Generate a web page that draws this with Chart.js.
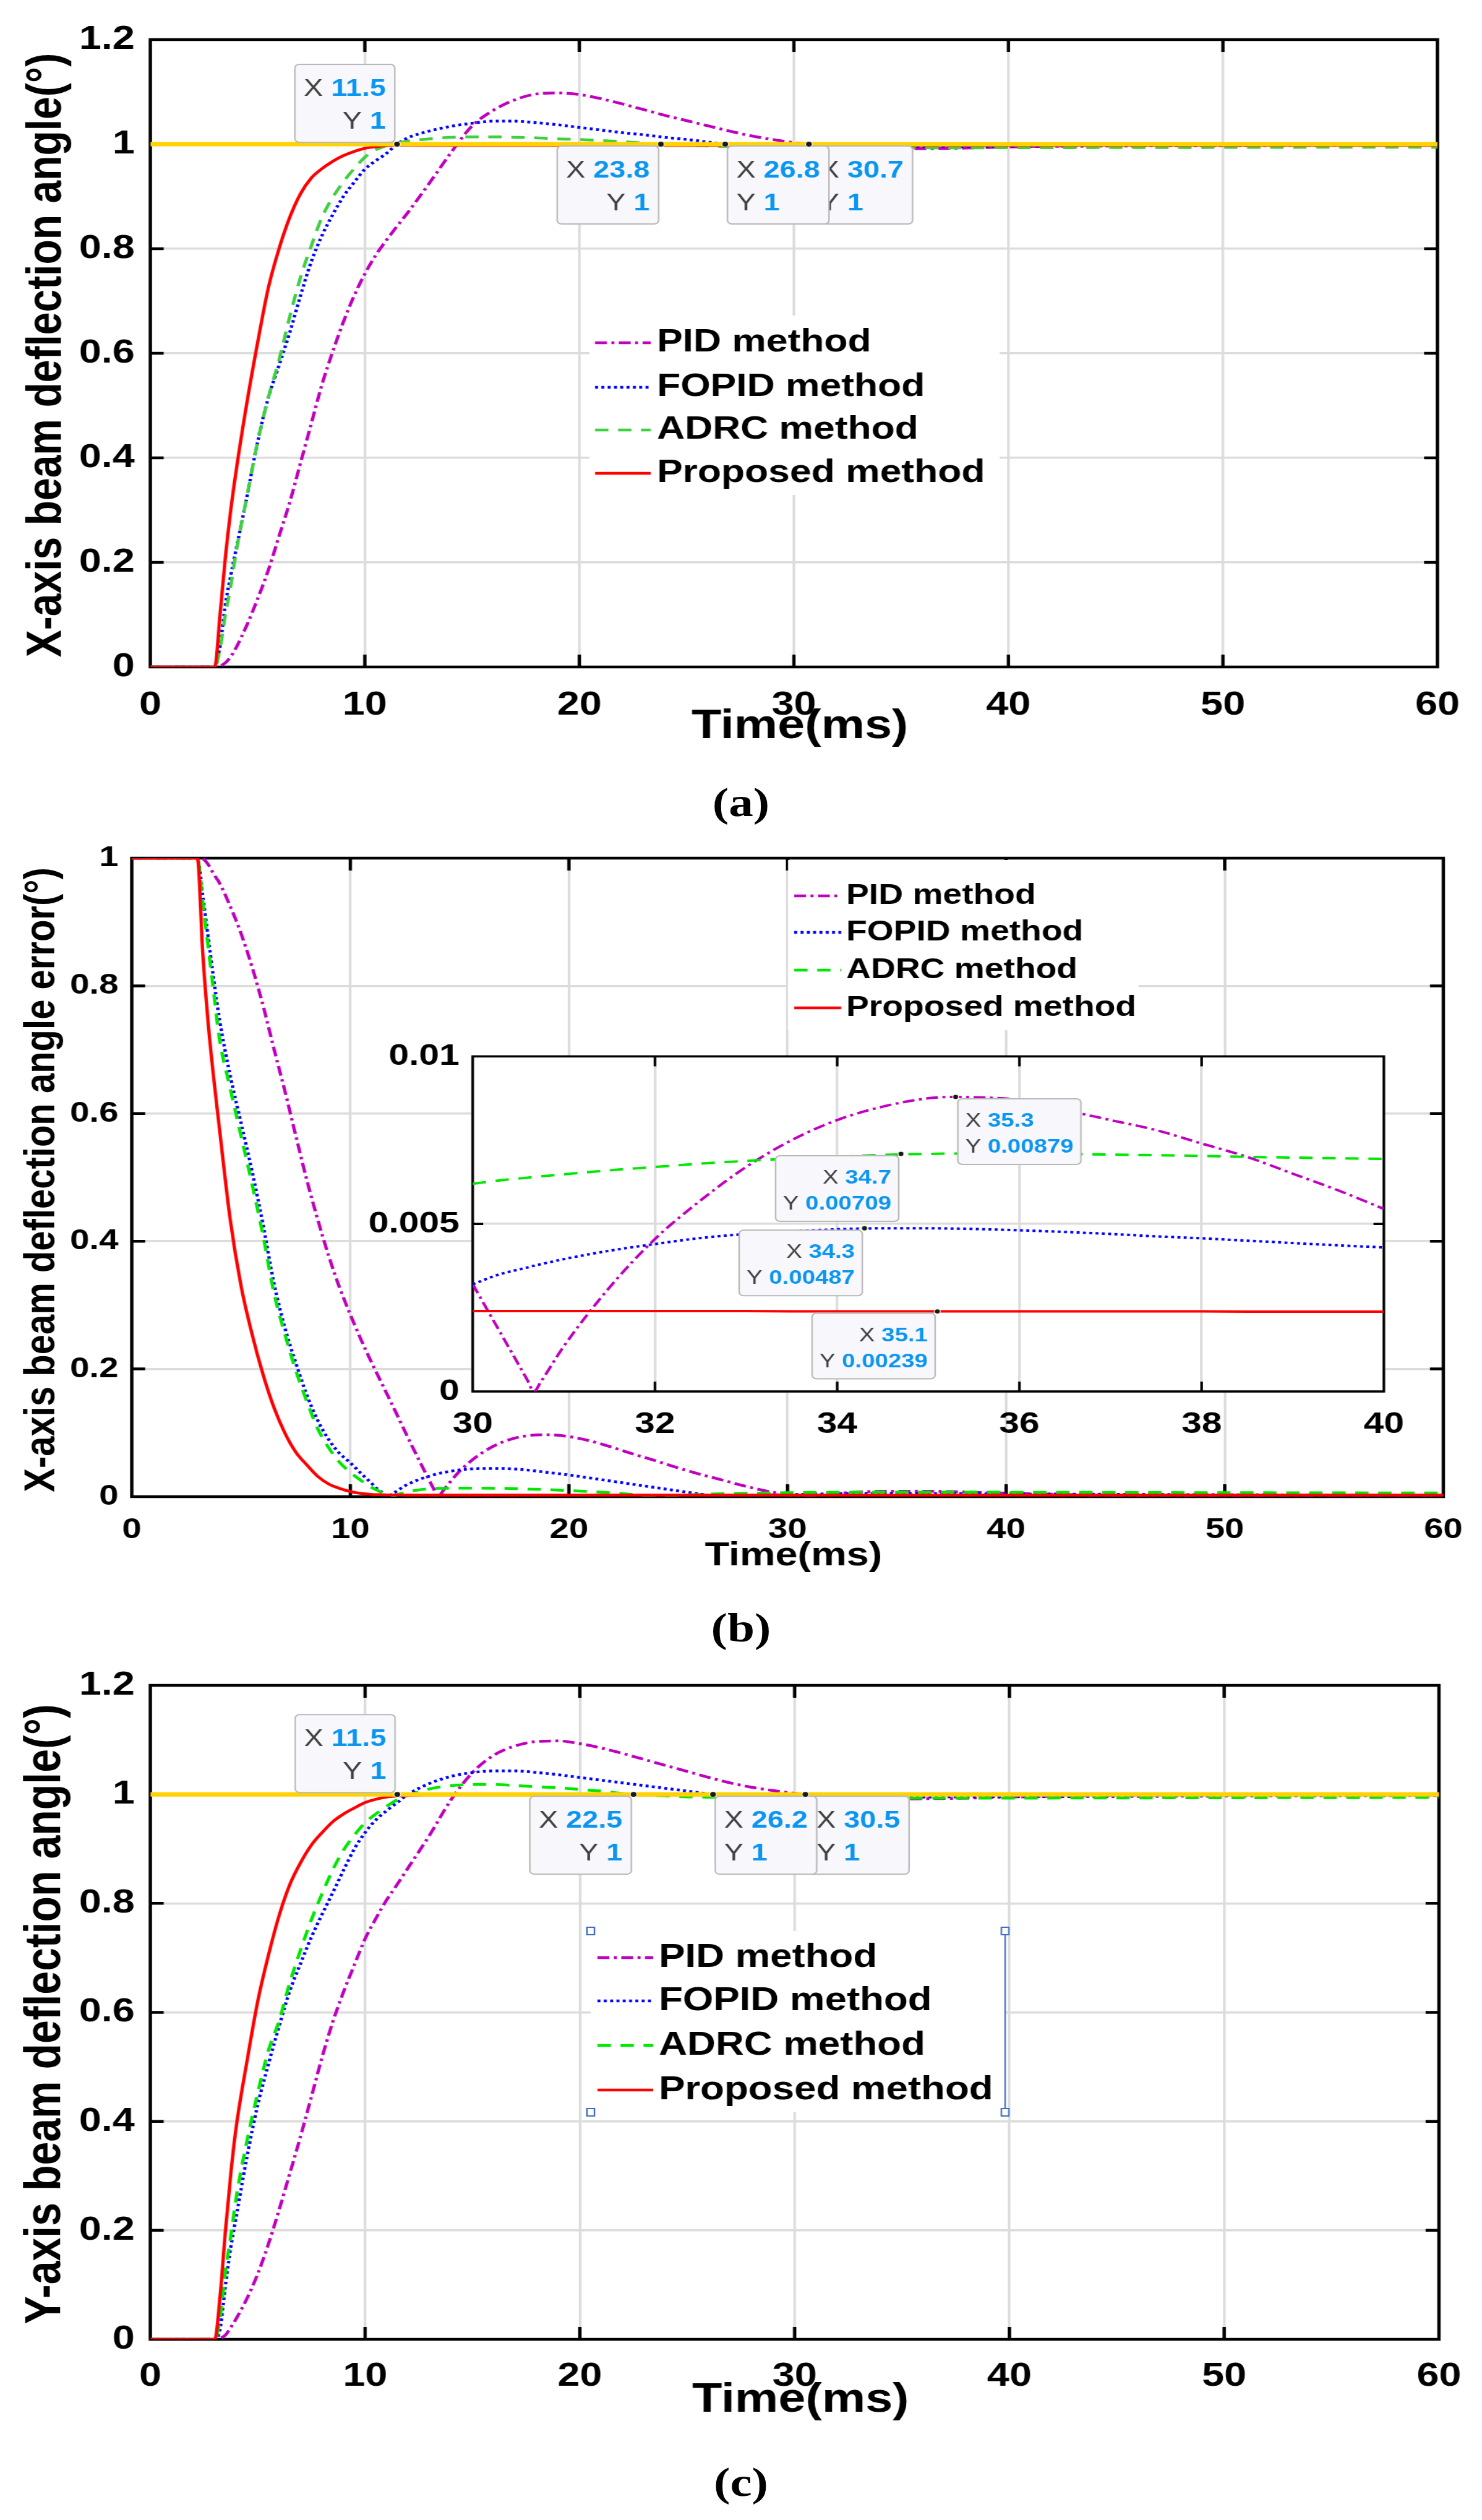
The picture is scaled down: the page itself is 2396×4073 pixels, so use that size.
<!DOCTYPE html>
<html lang="en">
<head>
<meta charset="utf-8">
<title>Beam deflection responses</title>
<script src="https://cdn.jsdelivr.net/npm/chart.js@4.4.1/dist/chart.umd.min.js"></script>
<style>
  html, body { margin: 0; padding: 0; background: #fff; }
  body { width: 2396px; height: 4073px; overflow: hidden; position: relative; }
  /* the original figure is stretched sideways, so draw narrow and widen */
  #page { position: absolute; left: 0; top: 0; width: 1997px; height: 4073px;
          transform-origin: 0 0; transform: scaleX(1.19980); }
  #page canvas { position: absolute; left: 0; }
  .caption { position: absolute; left: 0; width: 1997px; text-align: center;
             font-family: 'Liberation Serif', 'Times New Roman', serif; font-weight: bold;
             font-size: 66px; line-height: 66px; color: #000; }
</style>
</head>
<body>
<div id="page">
  <canvas id="chartA" width="1997" height="1240" style="top:0px"></canvas>
  <canvas id="chartB" width="1997" height="1250" style="top:1330px"></canvas>
  <canvas id="chartInset" width="1450" height="685" style="top:1660px; left:466.7px"></canvas>
  <canvas id="chartC" width="1997" height="1290" style="top:2660px"></canvas>
  <div class="caption" style="top:1264px">(a)</div>
  <div class="caption" style="top:2598px">(b)</div>
  <div class="caption" style="top:3979px">(c)</div>
</div>
<script>
// ---- values ----
const methodNames = ['PID method', 'FOPID method', 'ADRC method', 'Proposed method'];
const timeTicks = [0, 10, 20, 30, 40, 50, 60];
const angleTicks = [0, 0.2, 0.4, 0.6, 0.8, 1, 1.2];
const errorTicks = [0, 0.2, 0.4, 0.6, 0.8, 1];
const insetTimeTicks = [30, 32, 34, 36, 38, 40];
const insetErrorTicks = [0, 0.005, 0.01];
const refX = [0, 60];
const refY = [1, 1];

// (a) and (c) step responses, time in ms
const tStep = [
  0, 3, 3.25, 3.5, 3.75,
  4, 4.5, 5, 5.5, 6, 6.5,
  7, 7.5, 8, 8.5, 9, 9.5,
  10, 10.5, 11, 11.5, 12,
  13, 14, 15, 16, 17, 18, 19, 20, 21, 22,
  23, 24, 25, 26, 27, 28, 29, 30, 31, 32,
  33, 34, 35, 36, 38, 40,
  45, 50, 55, 60
];

// (a) X-axis angle
const pidA = [
  0, 0, 0.002, 0.008, 0.02,
  0.037, 0.08, 0.13, 0.185, 0.25, 0.315,
  0.39, 0.465, 0.54, 0.603, 0.66, 0.71,
  0.752, 0.787, 0.816, 0.843, 0.869,
  0.925, 0.983, 1.035, 1.065, 1.085, 1.096, 1.098, 1.095, 1.087, 1.077,
  1.066, 1.055, 1.045, 1.035, 1.025, 1.016, 1.009, 1.003, 0.9985, 0.9955,
  0.9933, 0.9918, 0.9912, 0.9914, 0.9925, 0.9945,
  0.998, 0.9995, 1, 1
];
const fopidA = [
  0, 0, 0.04, 0.12, 0.175,
  0.225, 0.325, 0.43, 0.515, 0.577, 0.64,
  0.71, 0.775, 0.825, 0.865, 0.9, 0.927,
  0.952, 0.968, 0.982, 1.0, 1.012,
  1.025, 1.034, 1.04, 1.044, 1.044, 1.041, 1.037, 1.032, 1.027, 1.022,
  1.018, 1.013, 1.009, 1.004, 0.999, 0.9975, 0.997, 0.9968, 0.9962, 0.9956,
  0.9953, 0.9952, 0.9951, 0.9952, 0.9954, 0.9957,
  0.9965, 0.997, 0.9975, 0.998
];
const adrcA = [
  0, 0, 0.035, 0.1, 0.155,
  0.22, 0.325, 0.43, 0.515, 0.587, 0.67,
  0.745, 0.805, 0.86, 0.898, 0.928, 0.953,
  0.975, 0.989, 0.997, 1.002, 1.006,
  1.01, 1.013, 1.014, 1.014, 1.013, 1.012, 1.01, 1.009, 1.007, 1.005,
  1.002, 0.9995, 0.998, 0.9965, 0.9955, 0.9948, 0.9943, 0.9938, 0.9936, 0.9933,
  0.9931, 0.993, 0.9929, 0.9929, 0.993, 0.9931,
  0.9934, 0.9937, 0.994, 0.9942
];
const propA = [
  0, 0, 0.1, 0.21, 0.3,
  0.375, 0.505, 0.62, 0.725, 0.8, 0.86,
  0.905, 0.935, 0.953, 0.967, 0.978, 0.986,
  0.992, 0.995, 0.997, 0.998, 0.9978,
  0.9976, 0.9976, 0.9976, 0.9976, 0.9976, 0.9976, 0.9976, 0.9976, 0.9976, 0.9976,
  0.9976, 0.9976, 0.9976, 0.9976, 0.9976, 0.9976, 0.9976, 0.9976, 0.9976, 0.9976,
  0.9976, 0.9976, 0.9976, 0.9976, 0.9976, 0.9976,
  0.9976, 0.9976, 0.9976, 0.9976
];
const tipXA = [11.5, 23.8, 26.8, 30.7];
const tipYA = [1, 1, 1, 1];

// (c) Y-axis angle
const pidC = [
  0, 0, 0.002, 0.008, 0.022,
  0.038, 0.075, 0.12, 0.175, 0.238, 0.305,
  0.373, 0.445, 0.518, 0.583, 0.638, 0.687,
  0.735, 0.772, 0.806, 0.835, 0.865,
  0.925, 0.99, 1.04, 1.072, 1.089, 1.097, 1.098, 1.093, 1.085, 1.075,
  1.064, 1.053, 1.042, 1.031, 1.021, 1.013, 1.007, 1.002, 0.998, 0.995,
  0.993, 0.992, 0.9915, 0.992, 0.993, 0.995,
  0.998, 0.999, 1, 1
];
const fopidC = [
  0, 0, 0.02, 0.1, 0.17,
  0.225, 0.335, 0.43, 0.505, 0.575, 0.64,
  0.69, 0.738, 0.78, 0.82, 0.861, 0.9,
  0.93, 0.953, 0.97, 0.985, 1.0,
  1.02, 1.033, 1.04, 1.043, 1.043, 1.04, 1.036, 1.031, 1.026, 1.021,
  1.016, 1.011, 1.006, 1.001, 0.998, 0.997, 0.9965, 0.996, 0.9958, 0.9955,
  0.9953, 0.9952, 0.9952, 0.9952, 0.9954, 0.9956,
  0.9963, 0.997, 0.9975, 0.998
];
const adrcC = [
  0, 0, 0.04, 0.125, 0.19,
  0.26, 0.364, 0.452, 0.53, 0.585, 0.655,
  0.715, 0.77, 0.818, 0.862, 0.898, 0.925,
  0.948, 0.964, 0.978, 0.99, 0.998,
  1.01, 1.016, 1.018, 1.018, 1.016, 1.014, 1.012, 1.009, 1.006, 1.0015,
  0.999, 0.997, 0.9955, 0.9948, 0.9943, 0.994, 0.9938, 0.9936, 0.9934, 0.9932,
  0.9931, 0.993, 0.993, 0.993, 0.993, 0.9931,
  0.9934, 0.9937, 0.994, 0.9942
];
const propC = [
  0, 0, 0.08, 0.2, 0.305,
  0.39, 0.51, 0.62, 0.705, 0.778, 0.835,
  0.875, 0.907, 0.93, 0.95, 0.964, 0.975,
  0.985, 0.991, 0.995, 0.997, 0.998,
  0.999, 0.999, 0.999, 0.999, 0.999, 0.999, 0.999, 0.999, 0.999, 0.999,
  0.999, 0.999, 0.999, 0.999, 0.999, 0.999, 0.999, 0.999, 0.999, 0.999,
  0.999, 0.999, 0.999, 0.999, 0.999, 0.999,
  0.999, 0.999, 0.999, 0.999
];
const tipXC = [11.5, 22.5, 26.2, 30.5];
const tipYC = [1, 1, 1, 1];

// (b) X-axis angle error
const tErr = [
  0, 3, 3.25, 3.5, 3.75,
  4, 4.5, 5, 5.5, 6, 6.5,
  7, 7.5, 8, 8.5, 9, 9.5,
  10, 10.5, 11, 11.2, 11.4, 11.5, 11.6, 11.7, 11.9, 12,
  12.5, 13, 13.5, 13.8, 14, 14.3, 15, 16, 17, 18,
  19, 20, 21, 22, 23, 23.8, 25, 26, 26.8, 28,
  29, 30, 30.7, 32, 34, 36, 38, 40,
  45, 50, 55, 60
];
const pidB = [
  1, 1, 0.999, 0.99, 0.975,
  0.962, 0.925, 0.882, 0.83, 0.77, 0.702,
  0.636, 0.566, 0.497, 0.435, 0.378, 0.328,
  0.285, 0.245, 0.208, 0.194, 0.18, 0.173, 0.166, 0.159, 0.145, 0.138,
  0.102, 0.067, 0.033, 0.013, 0, 0.012, 0.04, 0.068, 0.086, 0.095,
  0.097, 0.094, 0.087, 0.077, 0.066, 0.058, 0.045, 0.035, 0.028, 0.017,
  0.009, 0.0032, 0, 0.0045, 0.0082, 0.0086, 0.0074, 0.0055,
  0.002, 0.0008, 0.0003, 0.0001
];
const fopidB = [
  1, 1, 0.94, 0.875, 0.81,
  0.75, 0.66, 0.585, 0.51, 0.427, 0.335,
  0.265, 0.21, 0.16, 0.12, 0.09, 0.068,
  0.053, 0.036, 0.02, 0.013, 0.008, 0.005, 0.0025, 0, 0.004, 0.006,
  0.017, 0.025, 0.031, 0.034, 0.036, 0.038, 0.042, 0.044, 0.044, 0.042,
  0.038, 0.034, 0.029, 0.024, 0.019, 0.015, 0.009, 0.004, 0, 0.0018,
  0.0026, 0.0032, 0.0037, 0.0044, 0.0048, 0.0048, 0.0046, 0.0043,
  0.0037, 0.003, 0.0025, 0.002
];
const adrcB = [
  1, 1, 0.93, 0.86, 0.79,
  0.72, 0.64, 0.565, 0.49, 0.41, 0.32,
  0.255, 0.198, 0.15, 0.107, 0.077, 0.054,
  0.038, 0.025, 0.014, 0.0105, 0.007, 0.0055, 0.004, 0.0025, 0, 0.0015,
  0.0065, 0.01, 0.012, 0.0125, 0.013, 0.013, 0.0133, 0.0133, 0.013, 0.012,
  0.011, 0.0095, 0.008, 0.006, 0.003, 0, 0.0022, 0.0035, 0.0043, 0.0052,
  0.0058, 0.0062, 0.0064, 0.0067, 0.007, 0.0071, 0.007, 0.0069,
  0.0066, 0.0063, 0.006, 0.0058
];
const propB = [
  1, 1, 0.85, 0.74, 0.655,
  0.58, 0.435, 0.33, 0.255, 0.192, 0.14,
  0.1, 0.07, 0.05, 0.032, 0.02, 0.013,
  0.008, 0.005, 0.0035, 0.0032, 0.003, 0.0029, 0.0028, 0.0027, 0.0026, 0.0026,
  0.0025, 0.0024, 0.0024, 0.0024, 0.0024, 0.0024, 0.0024, 0.0024, 0.0024, 0.0024,
  0.0024, 0.0024, 0.0024, 0.0024, 0.0024, 0.0024, 0.0024, 0.0024, 0.0024, 0.0024,
  0.0024, 0.0024, 0.0024, 0.0024, 0.00239, 0.00239, 0.00239, 0.00238,
  0.00238, 0.00238, 0.00238, 0.00238
];

// (b) zoomed inset, 30-40 ms
const tIn = [
  30, 30.3, 30.6, 30.67, 30.75,
  31, 31.5, 32, 32.5, 33,
  33.5, 34, 34.5, 35, 35.3,
  35.5, 36, 36.5, 37, 37.5,
  38, 38.5, 39, 39.5, 40
];
const pidIn = [
  0.0032, 0.00177, 0.00034, 0, 0.0003,
  0.00135, 0.0031, 0.00455, 0.0057, 0.0067,
  0.0075, 0.0081, 0.0085, 0.00875, 0.00879,
  0.00878, 0.0087, 0.0084, 0.0081, 0.0078,
  0.0074, 0.007, 0.0065, 0.006, 0.00545
];
const fopidIn = [
  0.0032, 0.0035, 0.0037, 0.00375, 0.0038,
  0.00395, 0.0042, 0.0044, 0.00458, 0.0047,
  0.00478, 0.00484, 0.00487, 0.00487, 0.00486,
  0.00485, 0.00481, 0.00476, 0.0047, 0.00463,
  0.00457, 0.0045, 0.00443, 0.00436, 0.0043
];
const adrcIn = [
  0.0062, 0.0063, 0.00638, 0.0064, 0.00642,
  0.00648, 0.0066, 0.0067, 0.0068, 0.00688,
  0.00695, 0.007, 0.00706, 0.00709, 0.0071,
  0.0071, 0.0071, 0.00709, 0.00707, 0.00705,
  0.00703, 0.007, 0.00698, 0.00696, 0.00694
];
const propIn = [
  0.0024, 0.0024, 0.0024, 0.0024, 0.0024,
  0.0024, 0.0024, 0.0024, 0.0024, 0.0024,
  0.00239, 0.00239, 0.00239, 0.00239, 0.00239,
  0.00239, 0.00239, 0.00239, 0.00239, 0.00239,
  0.00239, 0.00238, 0.00238, 0.00238, 0.00238
];
const tipXIn = [35.3, 34.7, 34.3, 35.1];
const tipYIn = [0.00879, 0.00709, 0.00487, 0.00239];

// ---- drawing ----
const S = 2396 / 1997;          // horizontal stretch of the page
const FONT = "'Liberation Sans', Arial, Helvetica, sans-serif";
const COLORS = { pid: '#bf00bf', fopid: '#0000ff', adrcA: '#3fd03f', adrc: '#00e800', prop: '#ff0000', ref: '#ffd200' };
const DASH = { pid: [16, 6, 4, 6], fopid: [4, 4.5], adrc: [18, 13], prop: [] };

function line(t, ys, label, color, width, dash, order) {
  return {
    label, order,
    data: t.map((x, i) => ({ x, y: ys[i] })),
    borderColor: color, borderWidth: width, borderDash: dash,
    pointRadius: 0, fill: false, cubicInterpolationMode: 'monotone',
    borderCapStyle: 'butt', borderJoinStyle: 'round'
  };
}

function methodLines(t, pid, fopid, adrc, prop, w, green) {
  return [
    line(t, pid, methodNames[0], COLORS.pid, w, DASH.pid, 4),
    line(t, fopid, methodNames[1], COLORS.fopid, w, DASH.fopid, 3),
    line(t, adrc, methodNames[2], green, w, DASH.adrc, 2),
    line(t, prop, methodNames[3], COLORS.prop, w, DASH.prop, 1)
  ];
}

function refLine() {
  return {
    data: refX.map((x, i) => ({ x, y: refY[i] })),
    borderColor: COLORS.ref, borderWidth: 7, pointRadius: 0, fill: false, order: 0
  };
}

function roundedBox(ctx, x, y, w, h, r) {
  ctx.beginPath();
  ctx.moveTo(x + r, y);
  ctx.arcTo(x + w, y, x + w, y + h, r);
  ctx.arcTo(x + w, y + h, x, y + h, r);
  ctx.arcTo(x, y + h, x, y, r);
  ctx.arcTo(x, y, x + w, y, r);
  ctx.closePath();
}

function drawLegend(chart, lg) {
  if (!lg) return;
  const ctx = chart.ctx;
  ctx.save();
  ctx.fillStyle = '#ffffff';
  ctx.fillRect(lg.box[0], lg.box[1], lg.box[2] - lg.box[0], lg.box[3] - lg.box[1]);
  const items = chart.data.datasets.filter(d => d.label);
  ctx.font = `bold ${lg.size}px ${FONT}`;
  ctx.textBaseline = 'middle';
  ctx.textAlign = 'left';
  items.forEach((d, i) => {
    const y = lg.rows[i];
    ctx.save();
    ctx.strokeStyle = d.borderColor;
    ctx.lineWidth = d.borderWidth;
    ctx.setLineDash(d.borderDash || []);
    ctx.beginPath();
    ctx.moveTo(lg.x0, y);
    ctx.lineTo(lg.x1, y);
    ctx.stroke();
    ctx.restore();
    ctx.fillStyle = '#000';
    ctx.fillText(d.label, lg.tx, y);
  });
  if (lg.handles) {
    // selection marks left on the legend in the original figure
    const [l, t, r, b] = lg.box;
    ctx.strokeStyle = '#3d6cc0';
    ctx.lineWidth = 2;
    ctx.beginPath();
    ctx.moveTo(r, t);
    ctx.lineTo(r, b);
    ctx.stroke();
    [[l, t], [l, b], [r, t], [r, b]].forEach(([hx, hy]) => {
      ctx.fillStyle = '#fff';
      ctx.fillRect(hx - 5, hy - 6, 10, 12);
      ctx.strokeRect(hx - 5, hy - 6, 10, 12);
    });
  }
  ctx.restore();
}

function drawTips(chart, tp) {
  if (!tp) return;
  const { ctx, scales } = chart;
  const fontN = `${tp.size}px ${FONT}`;
  const fontB = `bold ${tp.size}px ${FONT}`;
  const marks = [];
  ctx.save();
  for (let i = tp.xs.length - 1; i >= 0; i--) {
    const xv = tp.xs[i], yv = tp.ys[i], side = tp.sides[i];
    const px = scales.x.getPixelForValue(xv);
    const py = scales.y.getPixelForValue(yv);
    const lines = [['X', String(xv)], ['Y', String(yv)]];
    const widths = lines.map(([k, v]) => {
      ctx.font = fontN;
      const a = ctx.measureText(k + ' ').width;
      ctx.font = fontB;
      return [a, ctx.measureText(v).width];
    });
    const w = Math.max(...widths.map(q => q[0] + q[1])) + 2 * tp.pad;
    const west = side[1] === 'w';
    const left = west ? px - tp.off - w : px + tp.off;
    const top = side[0] === 'n' ? py - tp.off - tp.h : py + tp.off;
    roundedBox(ctx, left, top, w, tp.h, 6);
    ctx.fillStyle = '#f8f8fc';
    ctx.fill();
    ctx.lineWidth = 2;
    ctx.strokeStyle = '#b8b8b8';
    ctx.stroke();
    ctx.textBaseline = 'alphabetic';
    ctx.textAlign = 'left';
    lines.forEach(([k, v], j) => {
      const lw = widths[j][0] + widths[j][1];
      const sx = west ? left + w - tp.pad - lw : left + tp.pad;
      const by = top + (j === 0 ? tp.b1 : tp.b2);
      ctx.font = fontN;
      ctx.fillStyle = '#404040';
      ctx.fillText(k + ' ', sx, by);
      ctx.font = fontB;
      ctx.fillStyle = '#0a95f0';
      ctx.fillText(v, sx + widths[j][0], by);
    });
    marks.push([px, py]);
  }
  marks.forEach(([px, py]) => {
    ctx.beginPath();
    ctx.arc(px, py, tp.r, 0, Math.PI * 2);
    ctx.fillStyle = '#1a1a1a';
    ctx.fill();
    ctx.lineWidth = 1.2;
    ctx.strokeStyle = '#fffbe0';
    ctx.stroke();
  });
  ctx.restore();
}

function drawTitles(chart, o) {
  const { ctx, chartArea: a } = chart;
  ctx.save();
  ctx.fillStyle = '#000';
  ctx.textAlign = 'center';
  ctx.textBaseline = 'middle';
  if (o.xTitle) {
    ctx.font = `bold ${o.xTitle.size}px ${FONT}`;
    ctx.fillText(o.xTitle.text, (a.left + a.right) / 2 + o.xTitle.dx, a.bottom + o.xTitle.dy);
  }
  if (o.yTitle) {
    ctx.font = `bold ${o.yTitle.size}px ${FONT}`;
    ctx.translate(o.yTitle.x, (a.top + a.bottom) / 2 + o.yTitle.dy);
    ctx.rotate(-Math.PI / 2);
    ctx.fillText(o.yTitle.text, 0, 0);
  }
  ctx.restore();
}

// MATLAB-like box, inward ticks, legend, datatips and titles
function matlabLook(o) {
  return {
    id: 'matlabLook',
    beforeDraw(chart) {
      if (!o.fillArea) return;
      const { ctx, chartArea: a } = chart;
      ctx.save();
      ctx.fillStyle = '#ffffff';
      ctx.fillRect(a.left, a.top, a.width, a.height);
      ctx.restore();
    },
    beforeDatasetsDraw(chart) {
      const { ctx, chartArea: a, scales: { x, y } } = chart;
      ctx.save();
      ctx.strokeStyle = '#000';
      ctx.lineWidth = o.frameWidth;
      ctx.strokeRect(a.left, a.top, a.width, a.height);
      ctx.beginPath();
      x.ticks.forEach(t => {
        if (t.value <= x.min || t.value >= x.max) return;
        const px = x.getPixelForValue(t.value);
        ctx.moveTo(px, a.bottom); ctx.lineTo(px, a.bottom - o.tickX);
        ctx.moveTo(px, a.top); ctx.lineTo(px, a.top + o.tickX);
      });
      y.ticks.forEach(t => {
        if (t.value <= y.min || t.value >= y.max) return;
        const py = y.getPixelForValue(t.value);
        ctx.moveTo(a.left, py); ctx.lineTo(a.left + o.tickY, py);
        ctx.moveTo(a.right, py); ctx.lineTo(a.right - o.tickY, py);
      });
      ctx.stroke();
      ctx.restore();
    },
    afterDatasetsDraw(chart) {
      drawLegend(chart, o.legend);
      drawTips(chart, o.tips);
      drawTitles(chart, o);
    }
  };
}

function axis(ticks, size, pad, fit, isX) {
  return {
    type: 'linear',
    min: ticks[0],
    max: ticks[ticks.length - 1],
    afterBuildTicks: ax => { ax.ticks = ticks.map(v => ({ value: v })); },
    afterFit: ax => { if (isX) ax.height = fit; else ax.width = fit; },
    grid: { color: '#dcdcdc', lineWidth: 3.5, drawTicks: false },
    border: { display: false },
    ticks: {
      color: '#000', padding: pad, autoSkip: false, maxRotation: 0,
      font: { family: FONT, weight: 'bold', size },
      callback: v => String(v)
    }
  };
}

function makeChart(id, p) {
  const cv = document.getElementById(id);
  return new Chart(cv, {
    type: 'line',
    data: { datasets: p.datasets },
    options: {
      responsive: false,
      animation: false,
      devicePixelRatio: 1,
      events: [],
      layout: { padding: { left: 0, right: cv.width - p.area.r, top: p.area.t, bottom: 0 } },
      scales: {
        x: axis(p.xTicks, p.tickSize, p.padX, cv.height - p.area.b, true),
        y: axis(p.yTicks, p.tickSize, p.padY, p.area.l, false)
      },
      plugins: { legend: { display: false }, tooltip: { enabled: false } }
    },
    plugins: [matlabLook(p.look)]
  });
}

const mainTip = { size: 39, pad: 12, h: 126, b1: 51, b2: 104, off: 3, r: 4.5 };
const frame = { frameWidth: 4.5, tickX: 20, tickY: 18 };

// (a)
makeChart('chartA', {
  datasets: [...methodLines(tStep, pidA, fopidA, adrcA, propA, 4.5, COLORS.adrcA), refLine()],
  xTicks: timeTicks, yTicks: angleTicks, tickSize: 54, padX: 30, padY: 21,
  area: { l: 243 / S, r: 2337 / S, t: 64, b: 1078 },
  look: Object.assign({}, frame, {
    legend: { x0: 962 / S, x1: 1052 / S, tx: 1062 / S, rows: [554, 626, 695, 765], size: 52,
              box: [953 / S, 510, 1616 / S, 800] },
    tips: Object.assign({ xs: tipXA, ys: tipYA, sides: ['nw', 'sw', 'se', 'se'] }, mainTip),
    xTitle: { text: 'Time(ms)', size: 66, dx: 8, dy: 97 },
    yTitle: { text: 'X-axis beam deflection angle(°)', size: 66, x: 64, dy: 3 }
  })
});

// (b)
makeChart('chartB', {
  datasets: methodLines(tErr, pidB, fopidB, adrcB, propB, 4.5, COLORS.adrc),
  xTicks: timeTicks, yTicks: errorTicks, tickSize: 47, padX: 26, padY: 18,
  area: { l: 213 / S, r: 2338 / S, t: 57, b: 1089 },
  look: Object.assign({}, frame, {
    legend: { x0: 1284 / S, x1: 1360 / S, tx: 1368 / S, rows: [118, 177, 238, 299], size: 46,
              box: [1274 / S, 60, 1841 / S, 335] },
    xTitle: { text: 'Time(ms)', size: 54, dx: 8, dy: 96 },
    yTitle: { text: 'X-axis beam deflection angle error(°)', size: 58, x: 57, dy: 4 }
  })
});

// (b) inset
makeChart('chartInset', {
  datasets: methodLines(tIn, pidIn, fopidIn, adrcIn, propIn, 4, COLORS.adrc),
  xTicks: insetTimeTicks, yTicks: insetErrorTicks, tickSize: 49, padX: 24, padY: 18,
  area: { l: 170, r: 1397.7, t: 45, b: 589 },
  look: {
    frameWidth: 3.5, tickX: 16, tickY: 14, fillArea: true,
    tips: { xs: tipXIn, ys: tipYIn, sides: ['se', 'sw', 'sw', 'sw'],
            size: 32, pad: 10, h: 106, b1: 45, b2: 87, off: 3, r: 4 }
  }
});

// (c)
makeChart('chartC', {
  datasets: [...methodLines(tStep, pidC, fopidC, adrcC, propC, 4.5, COLORS.adrc), refLine()],
  xTicks: timeTicks, yTicks: angleTicks, tickSize: 54, padX: 28, padY: 21,
  area: { l: 243 / S, r: 2337 / S, t: 64, b: 1121 },
  look: Object.assign({}, frame, {
    legend: { x0: 966 / S, x1: 1056 / S, tx: 1065 / S, rows: [504, 574, 646, 718], size: 53,
              box: [955 / S, 461, 1625 / S, 754], handles: true },
    tips: Object.assign({ xs: tipXC, ys: tipYC, sides: ['nw', 'sw', 'se', 'se'] }, mainTip),
    xTitle: { text: 'Time(ms)', size: 66, dx: 8, dy: 99 },
    yTitle: { text: 'Y-axis beam deflection angle(°)', size: 68, x: 62, dy: 3 }
  })
});
</script>
</body>
</html>
